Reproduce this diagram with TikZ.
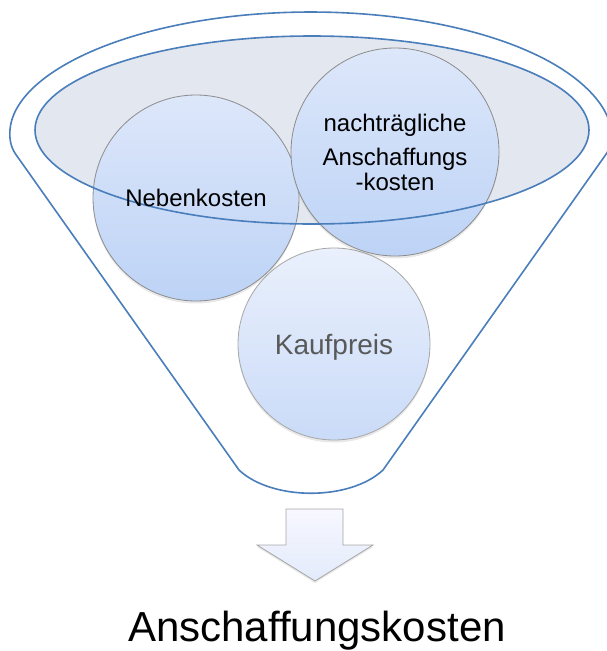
\documentclass[tikz,border=0pt]{standalone}
\usepackage{fontspec}
\setmainfont{Liberation Sans}
\usetikzlibrary{positioning,shadows}
\definecolor{fblue}{HTML}{4A7EBB}
\definecolor{rimgray}{HTML}{E3E7F0}
\definecolor{ballhi}{HTML}{DDE7FA}
\definecolor{balllo}{HTML}{BDD3F6}
\definecolor{kaufhi}{HTML}{EAF0FC}
\definecolor{kauflo}{HTML}{CADBF8}
\definecolor{kgray}{HTML}{595959}
\tikzset{
  funnel/.style={line width=1.6pt,draw=fblue,line join=round,line cap=round},
  rim/.style={fill=rimgray},
  ball/.style={circle,inner sep=0pt,draw=black!45,line width=0.8pt,
    top color=ballhi,bottom color=balllo,
    drop shadow={opacity=0.18,shadow xshift=0pt,shadow yshift=-2.5pt}},
  kball/.style={top color=kaufhi,bottom color=kauflo,draw=black!35},
  lbl/.style={font=\fontsize{24}{25}\selectfont,align=center},
  bigarr/.style={draw=black!35,line width=0.8pt,top color=blue!3,bottom color=ballhi!85,
    drop shadow={opacity=0.18,shadow xshift=0pt,shadow yshift=-2pt}},
}
\begin{document}
\begin{tikzpicture}[x=1pt,y=-1pt]
  \useasboundingbox (0,0) rectangle (606,651);
  % funnel body
  \draw[funnel] (383,470) .. controls (350,501) and (272,501) .. (239,470)
    [rounded corners=6pt] -- (12,149)
    arc[start angle=175,end angle=365,x radius=300,y radius=126]
    -- (383,470);
  % top opening
  \fill[rim] (312,130) ellipse[x radius=277,y radius=94];
  \node[ball,kball,minimum size=192pt] (kauf) at (334,344) {};
  \node[ball,minimum size=206pt] (neben) at (196,198) {};
  \node[ball,minimum size=208pt] (nachtr) at (395,152) {};
  \draw[funnel] (312,130) ellipse[x radius=277,y radius=94];
  \node[lbl] (nebentxt) at (neben) {Nebenkosten};
  \node[lbl] (nachtrtxt) at (nachtr) {nachträgliche\\[9pt]Anschaffungs\\-kosten};
  \node[lbl,font=\fontsize{28}{30}\selectfont,text=kgray,text depth=0pt] (kauftxt) at (kauf) {Kaufpreis};
  % arrow and result
  \draw[bigarr] (286,509) -- (343,509) -- (343,545) -- (373,545) -- (315,581)
    -- (257,545) -- (286,545) -- cycle;
  \node[font=\fontsize{42}{44}\selectfont,anchor=base] (ak) at (317,641) {Anschaffungskosten};
\end{tikzpicture}
\end{document}
